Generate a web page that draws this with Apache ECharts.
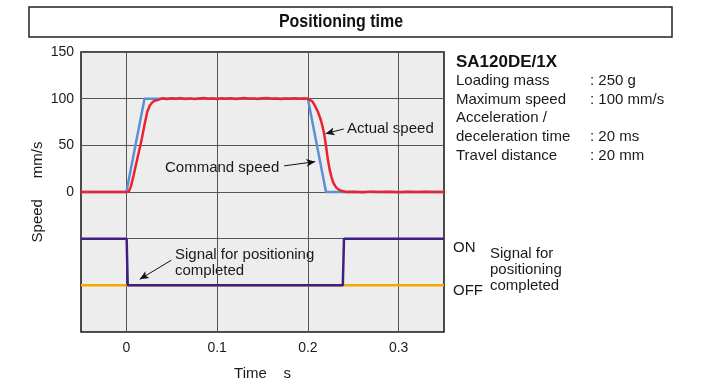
<!DOCTYPE html>
<html>
<head>
<meta charset="utf-8">
<script src="https://cdn.jsdelivr.net/npm/echarts@6/dist/echarts.min.js"></script>
<style>
  html, body { margin: 0; padding: 0; background: #fff; }
  #main { width: 709px; height: 390px; }
</style>
</head>
<body>
<div id="main"></div>
<script>
// time axis ticks (s) and speed tick labels (mm/s)
const timeTicks = [0, 0.1, 0.2, 0.3];
const speedLabels = ["0", "50", "100", "150"];

// command speed
const cmdTime = [-0.05, 0, 0.02, 0.2, 0.22, 0.35];
const cmdSpeed = [0, 0, 100, 100, 0, 0];

// actual speed
const actTime = [-0.05, -0.03, -0.01, 0, 0.0025, 0.005, 0.008, 0.011, 0.014, 0.017,
  0.02, 0.023, 0.026, 0.029, 0.032, 0.036, 0.04, 0.045, 0.05, 0.055,
  0.06, 0.065, 0.07, 0.075, 0.08, 0.085, 0.09, 0.095, 0.1, 0.105,
  0.11, 0.115, 0.12, 0.125, 0.13, 0.135, 0.14, 0.145, 0.15, 0.155,
  0.16, 0.165, 0.17, 0.175, 0.18, 0.185, 0.19, 0.195, 0.2, 0.202,
  0.205, 0.208, 0.211, 0.214, 0.216, 0.218, 0.22, 0.222, 0.224, 0.226,
  0.228, 0.231, 0.234, 0.238, 0.242, 0.25, 0.26, 0.27, 0.28, 0.29,
  0.3, 0.31, 0.32, 0.33, 0.34, 0.35];
const actSpeed = [0, 0, 0, 0, 0, 6, 18, 31, 44, 57,
  72, 86, 93, 96.5, 98, 99, 100.5, 99.6, 100.4, 99.8,
  100.6, 99.7, 100.3, 99.5, 100.2, 100.7, 99.8, 100.3, 99.6, 100.4,
  99.9, 100.5, 99.7, 100.2, 100.6, 99.8, 100.3, 99.6, 100.4, 100.8,
  99.9, 100.3, 99.7, 100.2, 99.8, 100.4, 99.9, 100.2, 100, 99.5,
  97, 92, 86, 78, 71, 62, 49, 35, 24, 16,
  10, 5, 2.5, 1, 0, 0.3, -0.2, 0.4, 0, 0.3,
  -0.2, 0.2, 0, 0.3, 0, 0];

// positioning completed signal (-50 = ON, -100 = OFF)
const sigTime = [-0.05, 0.0003, 0.0015, 0.2385, 0.2398, 0.35];
const sigLevel = [-50, -50, -100, -100, -50, -50];
const offTime = [-0.05, 0.35];
const offLevel = [-100, -100];

const specNames = ["Loading mass", "Maximum speed", "Acceleration /", "deceleration time", "Travel distance"];
const specValues = [": 250 g", ": 100 mm/s", "", ": 20 ms", ": 20 mm"];

const zip = (a, b) => a.map((v, i) => [v, b[i]]);

const chart = echarts.init(document.getElementById("main"));
const FONT = "'Liberation Sans', Arial, sans-serif";
const txt = { fontFamily: FONT, fontSize: 15, fill: "#1a1a1a" };

function arrow(t1, v1, t2, v2) {
  return [
    { coord: [t1, v1], symbol: "none" },
    { coord: [t2, v2], symbol: "arrow", symbolSize: [6, 9] }
  ];
}

const graphics = [
  {
    type: "rect",
    shape: { x: 29, y: 7, width: 643, height: 30 },
    style: { fill: "none", stroke: "#222", lineWidth: 1.5 }
  },
  {
    // condensed bold title: squeeze a normal bold face
    type: "text", x: 341, y: 22, scaleX: 0.84,
    style: {
      text: "Positioning time", fontFamily: FONT,
      fontSize: 19, fontWeight: "bold", fill: "#111", align: "center", verticalAlign: "middle"
    }
  },
  {
    type: "text", x: 456, y: 62,
    style: { text: "SA120DE/1X", fontFamily: FONT, fontSize: 17, fontWeight: "bold", fill: "#111", verticalAlign: "middle" }
  },
  { type: "text", x: 347, y: 129, style: Object.assign({ text: "Actual speed", verticalAlign: "middle" }, txt) },
  { type: "text", x: 165, y: 168, style: Object.assign({ text: "Command speed", verticalAlign: "middle" }, txt) },
  { type: "text", x: 175, y: 255, style: Object.assign({ text: "Signal for positioning", verticalAlign: "middle" }, txt) },
  { type: "text", x: 175, y: 271, style: Object.assign({ text: "completed", verticalAlign: "middle" }, txt) },
  { type: "text", x: 453, y: 248, style: Object.assign({ text: "ON", verticalAlign: "middle" }, txt) },
  { type: "text", x: 453, y: 291, style: Object.assign({ text: "OFF", verticalAlign: "middle" }, txt) },
  { type: "text", x: 490, y: 254, style: Object.assign({ text: "Signal for", verticalAlign: "middle" }, txt) },
  { type: "text", x: 490, y: 270, style: Object.assign({ text: "positioning", verticalAlign: "middle" }, txt) },
  { type: "text", x: 490, y: 286, style: Object.assign({ text: "completed", verticalAlign: "middle" }, txt) }
];
specNames.forEach((n, i) => {
  const y = 81 + i * 18.6;
  graphics.push({ type: "text", x: 456, y: y, style: Object.assign({ text: n, verticalAlign: "middle" }, txt) });
  if (specValues[i]) {
    graphics.push({ type: "text", x: 590, y: y, style: Object.assign({ text: specValues[i], verticalAlign: "middle" }, txt) });
  }
});

const option = {
  animation: false,
  textStyle: { fontFamily: FONT },
  grid: {
    left: 81, right: 265, top: 52, bottom: 58,
    show: true, backgroundColor: "#ededed", borderColor: "#111", borderWidth: 1.5
  },
  xAxis: {
    type: "value", min: -0.05, max: 0.35,
    name: "Time    s", nameLocation: "middle", nameGap: 34, nameMoveOverlap: false,
    nameTextStyle: { fontSize: 15, color: "#1a1a1a", fontFamily: FONT },
    axisLine: { show: false },
    axisTick: { show: false, customValues: timeTicks },
    axisLabel: { customValues: timeTicks, fontSize: 14, color: "#1a1a1a", margin: 9, fontFamily: FONT },
    splitLine: { show: true, lineStyle: { color: "#555", width: 1 } }
  },
  yAxis: {
    type: "value", min: -150, max: 150, interval: 50,
    name: "Speed     mm/s", nameLocation: "middle", nameGap: 36, nameRotate: 90, nameMoveOverlap: false,
    nameTextStyle: { fontSize: 15, color: "#1a1a1a", fontFamily: FONT },
    axisLine: { show: false },
    axisTick: { show: false },
    axisLabel: {
      fontSize: 14, color: "#1a1a1a", margin: 7, fontFamily: FONT,
      formatter: v => speedLabels.indexOf(String(v)) >= 0 ? String(v) : ""
    },
    splitLine: { show: true, lineStyle: { color: "#555", width: 1 } }
  },
  series: [
    {
      name: "OFF level", type: "line", data: zip(offTime, offLevel), symbol: "none",
      lineStyle: { color: "#f5a800", width: 2.5 }
    },
    {
      name: "Signal for positioning completed", type: "line", data: zip(sigTime, sigLevel), symbol: "none",
      lineStyle: { color: "#3f1f80", width: 2.5 },
      markLine: {
        silent: true, label: { show: false }, lineStyle: { color: "#111", width: 1, type: "solid" },
        data: [arrow(0.0497, -73, 0.0147, -93.5)]
      }
    },
    {
      name: "Command speed", type: "line", data: zip(cmdTime, cmdSpeed), symbol: "none",
      lineStyle: { color: "#5b8fd6", width: 2.5 },
      markLine: {
        silent: true, label: { show: false }, lineStyle: { color: "#111", width: 1, type: "solid" },
        data: [arrow(0.1738, 28, 0.2081, 32.5), arrow(0.2395, 67.5, 0.2195, 62.5)]
      }
    },
    {
      name: "Actual speed", type: "line", data: zip(actTime, actSpeed), symbol: "none",
      lineStyle: { color: "#e8242e", width: 2.5 }
    }
  ],
  graphic: graphics
};
chart.setOption(option);
</script>
</body>
</html>
